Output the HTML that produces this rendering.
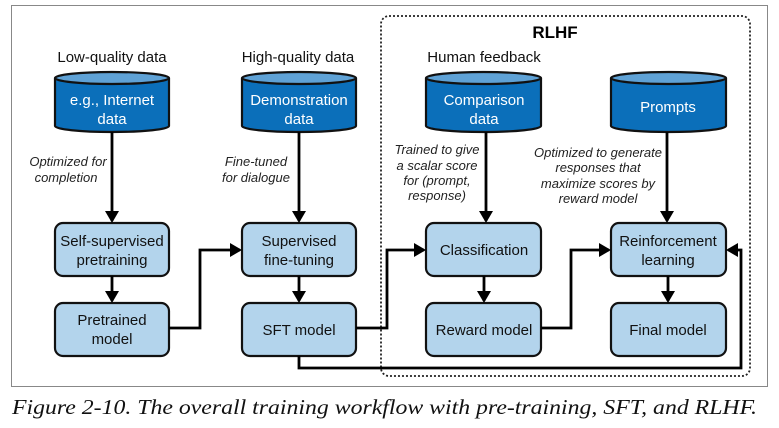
<!DOCTYPE html>
<html><head><style>
body{margin:0;background:#fff;width:779px;height:423px;overflow:hidden}
</style></head><body>
<svg width="779" height="423" xmlns="http://www.w3.org/2000/svg" font-family="Liberation Sans, sans-serif">
<defs>
<marker id="a" markerWidth="12" markerHeight="14" refX="10" refY="7" orient="auto" markerUnits="userSpaceOnUse"><path d="M0,0 L12,7 L0,14 z" fill="#000"/></marker>
</defs>
<rect x="11.5" y="5.5" width="756" height="381" fill="none" stroke="#888" stroke-width="1"/>
<rect x="381" y="16" width="369" height="360" rx="8" fill="none" stroke="#222" stroke-width="1.8" stroke-dasharray="2,2"/>
<text x="555" y="38" font-size="17" font-weight="bold" text-anchor="middle">RLHF</text>
<g font-size="15" text-anchor="middle" fill="#111">
<text x="112" y="62">Low-quality data</text>
<text x="298" y="62">High-quality data</text>
<text x="484" y="62">Human feedback</text>
</g>
<g stroke="#111" stroke-width="2.2" fill="#0b6fba">
<path d="M55,78 L55,126 A57,6 0 0 0 169,126 L169,78"/>
<ellipse cx="112" cy="78" rx="57" ry="6" fill="#5fa2d6"/>
<path d="M242,78 L242,126 A57,6 0 0 0 356,126 L356,78"/>
<ellipse cx="299" cy="78" rx="57" ry="6" fill="#5fa2d6"/>
<path d="M426,78 L426,126 A57.5,6 0 0 0 541,126 L541,78"/>
<ellipse cx="483.5" cy="78" rx="57.5" ry="6" fill="#5fa2d6"/>
<path d="M611,78 L611,126 A57.5,6 0 0 0 726,126 L726,78"/>
<ellipse cx="668.5" cy="78" rx="57.5" ry="6" fill="#5fa2d6"/>
</g>
<g font-size="15" text-anchor="middle" fill="#fff">
<text x="112" y="105">e.g., Internet</text><text x="112" y="124">data</text>
<text x="299" y="105">Demonstration</text><text x="299" y="124">data</text>
<text x="484" y="105">Comparison</text><text x="484" y="124">data</text>
<text x="668" y="112">Prompts</text>
</g>
<g stroke="#111" stroke-width="2.2" fill="#b3d4ec">
<rect x="55" y="223" width="114" height="53" rx="8"/>
<rect x="55" y="303" width="114" height="53" rx="8"/>
<rect x="242" y="223" width="114" height="53" rx="8"/>
<rect x="242" y="303" width="114" height="53" rx="8"/>
<rect x="426" y="223" width="115" height="53" rx="8"/>
<rect x="426" y="303" width="115" height="53" rx="8"/>
<rect x="611" y="223" width="115" height="53" rx="8"/>
<rect x="611" y="303" width="115" height="53" rx="8"/>
</g>
<g font-size="15" text-anchor="middle" fill="#111">
<text x="112" y="246">Self-supervised</text><text x="112" y="265">pretraining</text>
<text x="112" y="325">Pretrained</text><text x="112" y="344">model</text>
<text x="299" y="246">Supervised</text><text x="299" y="265">fine-tuning</text>
<text x="299" y="335">SFT model</text>
<text x="484" y="255">Classification</text>
<text x="484" y="335">Reward model</text>
<text x="668" y="246">Reinforcement</text><text x="668" y="265">learning</text>
<text x="668" y="335">Final model</text>
</g>
<g font-size="13" font-style="italic" fill="#222" text-anchor="middle">
<text x="68" y="166">Optimized for</text><text x="66" y="182">completion</text>
<text x="256" y="166">Fine-tuned</text><text x="256" y="182">for dialogue</text>
<text x="437" y="154">Trained to give</text><text x="437" y="170">a scalar score</text><text x="437" y="185">for (prompt,</text><text x="437" y="200">response)</text>
<text x="598" y="157">Optimized to generate</text><text x="598" y="172">responses that</text><text x="598" y="188">maximize scores by</text><text x="598" y="203">reward model</text>
</g>
<g stroke="#000" stroke-width="2.8" fill="none" marker-end="url(#a)">
<line x1="112" y1="132" x2="112" y2="221"/>
<line x1="299" y1="132" x2="299" y2="221"/>
<line x1="486" y1="132" x2="486" y2="221"/>
<line x1="667" y1="132" x2="667" y2="221"/>
<line x1="112" y1="276" x2="112" y2="301"/>
<line x1="299" y1="276" x2="299" y2="301"/>
<line x1="484" y1="276" x2="484" y2="301"/>
<line x1="668" y1="276" x2="668" y2="301"/>
<polyline points="169,328 200,328 200,250 240,250"/>
<polyline points="356,328 387,328 387,250 424,250"/>
<polyline points="541,328 571,328 571,250 609,250"/>
<polyline points="299,356 299,368 741,368 741,250 728,250"/>
</g>
<text x="12" y="414" font-family="Liberation Serif, serif" font-style="italic" font-size="21" fill="#111" textLength="745" lengthAdjust="spacingAndGlyphs">Figure 2-10. The overall training workflow with pre-training, SFT, and RLHF.</text>
</svg>
</body></html>
